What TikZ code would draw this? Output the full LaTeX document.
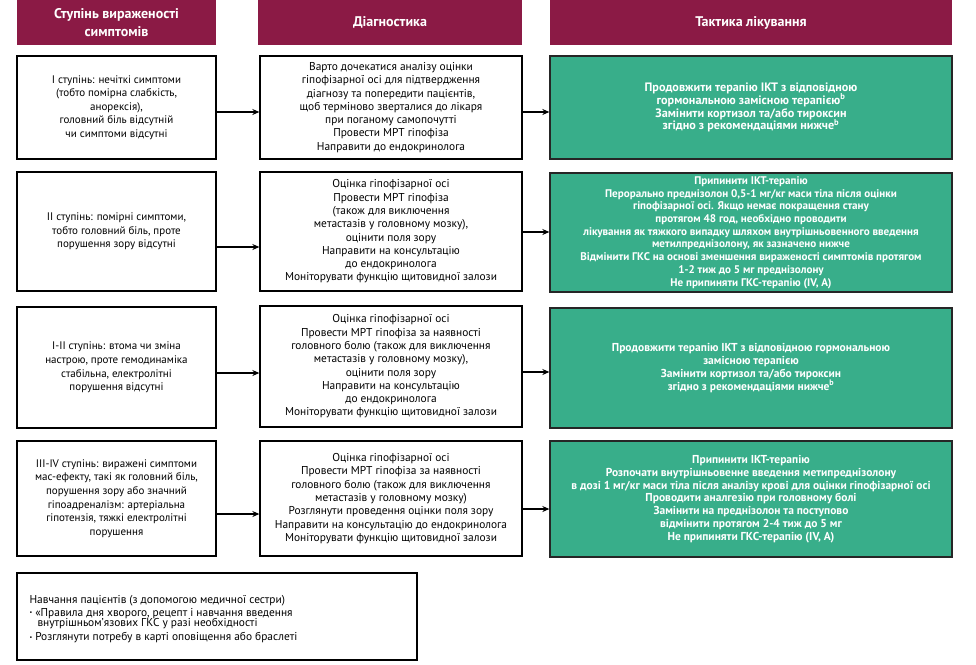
\documentclass[tikz,border=0pt]{standalone}
\usepackage{fontspec}
\setmainfont{PT Sans}
\usetikzlibrary{arrows.meta}
\definecolor{hdr}{RGB}{139,26,69}
\definecolor{grn}{RGB}{56,174,138}
\begin{document}
\begin{tikzpicture}[x=1pt,y=-1pt,
  hdrbox/.style={fill=hdr, text=white, font=\fontsize{14}{17.5}\selectfont\bfseries, align=center, inner sep=0pt},
  wbox/.style={draw=black, line width=1.3pt, fill=white, align=center, font=\fontsize{11.4}{13.3}\selectfont, inner sep=0pt},
  sbox/.style={wbox, font=\fontsize{11}{13.6}\selectfont},
  gbox/.style={draw=black!85, line width=1.3pt, fill=grn, text=white, align=center, font=\fontsize{11.5}{12.8}\selectfont\bfseries, inner sep=0pt},
  notebox/.style={draw=black, line width=1.3pt, fill=white, inner sep=0pt},
  notetext/.style={align=left, font=\fontsize{11.4}{11.5}\selectfont, inner sep=0pt, anchor=west},
  arr/.style={-{Stealth[length=7pt,width=6pt]}, line width=1.3pt}]
\useasboundingbox (0,0) rectangle (976,664);
\fill[white] (0,0) rectangle (976,664);

% headers
\node[hdrbox, minimum width=199pt, minimum height=45pt] (h1) at (116.5,22.5) {Ступінь вираженості\\симптомів};
\node[hdrbox, minimum width=264pt, minimum height=45pt] (h2) at (390,22.5) {Діагностика};
\node[hdrbox, minimum width=402pt, minimum height=45pt] (h3) at (751,22.5) {Тактика лікування};

% row 1
\node[sbox, minimum width=199pt, minimum height=103pt] (r1a) at (116.5,107.5)
  {І ступінь: нечіткі симптоми\\(тобто помірна слабкість,\\анорексія),\\головний біль відсутній\\чи симптоми відсутні};
\node[wbox, minimum width=262pt, minimum height=103pt] (r1b) at (391,107.5)
  {Варто дочекатися аналізу оцінки\\гіпофізарної осі для підтвердження\\діагнозу та попередити пацієнтів,\\щоб терміново зверталися до лікаря\\при поганому самопочутті\\Провести МРТ гіпофіза\\Направити до ендокринолога};
\node[gbox, minimum width=402pt, minimum height=103pt, font=\fontsize{12.2}{12.8}\selectfont\bfseries] (r1c) at (751,107.5)
  {Продовжити терапію ІКТ з відповідною\\гормональною замісною терапією\textsuperscript{b}\\Замінити кортизол та/або тироксин\\згідно з рекомендаціями нижче\textsuperscript{b}};

% row 2
\node[sbox, minimum width=199pt, minimum height=119pt] (r2a) at (116.5,231.5)
  {ІІ ступінь: помірні симптоми,\\тобто головний біль, проте\\порушення зору відсутні};
\node[wbox, minimum width=262pt, minimum height=119pt] (r2b) at (391,231.5)
  {Оцінка гіпофізарної осі\\Провести МРТ гіпофіза\\(також для виключення\\метастазів у головному мозку),\\оцінити поля зору\\Направити на консультацію\\до ендокринолога\\Моніторувати функцію щитовидної залози};
\node[gbox, minimum width=402pt, minimum height=119pt, font=\fontsize{11.1}{12.7}\selectfont\bfseries] (r2c) at (751,232.5)
  {Припинити ІКТ-терапію\\Перорально преднізолон 0,5-1 мг/кг маси тіла після оцінки\\гіпофізарної осі. Якщо немає покращення стану\\протягом 48 год, необхідно проводити\\лікування як тяжкого випадку шляхом внутрішньовенного введення\\метилпреднізолону, як зазначено нижче\\Відмінити ГКС на основі зменшення вираженості симптомів протягом\\1-2 тиж до 5 мг преднізолону\\Не припиняти ГКС-терапію (IV, A)};

% row 3
\node[sbox, minimum width=199pt, minimum height=121pt] (r3a) at (116.5,367.5)
  {І-ІІ ступінь: втома чи зміна\\настрою, проте гемодинаміка\\стабільна, електролітні\\порушення відсутні};
\node[wbox, minimum width=262pt, minimum height=121pt] (r3b) at (391,366.5)
  {Оцінка гіпофізарної осі\\Провести МРТ гіпофіза за наявності\\головного болю (також для виключення\\метастазів у головному мозку),\\оцінити поля зору\\Направити на консультацію\\до ендокринолога\\Моніторувати функцію щитовидної залози};
\node[gbox, minimum width=402pt, minimum height=120pt] (r3c) at (751,368)
  {Продовжити терапію ІКТ з відповідною гормональною\\замісною терапією\\Замінити кортизол та/або тироксин\\згідно з рекомендаціями нижче\textsuperscript{b}};

% row 4
\node[sbox, minimum width=199pt, minimum height=115pt] (r4a) at (116.5,498.5)
  {ІІІ-ІV ступінь: виражені симптоми\\мас-ефекту, такі як головний біль,\\порушення зору або значний\\гіпоадреналізм: артеріальна\\гіпотензія, тяжкі електролітні\\порушення};
\node[wbox, minimum width=262pt, minimum height=115pt] (r4b) at (391,498.5)
  {Оцінка гіпофізарної осі\\Провести МРТ гіпофіза за наявності\\головного болю (також для виключення\\метастазів у головному мозку)\\Розглянути проведення оцінки поля зору\\Направити на консультацію до ендокринолога\\Моніторувати функцію щитовидної залози};
\node[gbox, minimum width=402pt, minimum height=116pt] (r4c) at (751,499)
  {Припинити ІКТ-терапію\\Розпочати внутрішньовенне введення метипреднізолону\\в дозі 1 мг/кг маси тіла після аналізу крові для оцінки гіпофізарної осі\\Проводити аналгезію при головному болі\\Замінити на преднізолон та поступово\\відмінити протягом 2-4 тиж до 5 мг\\Не припиняти ГКС-терапію (IV, A)};

% arrows
\draw[arr] (r1a.east |- 0,112) -- (r1b.west |- 0,112);
\draw[arr] (r1b.east |- 0,112) -- (r1c.west |- 0,112);
\draw[arr] (r2a.east |- 0,247) -- (r2b.west |- 0,247);
\draw[arr] (r2b.east |- 0,232) -- (r2c.west |- 0,232);
\draw[arr] (r3a.east |- 0,373) -- (r3b.west |- 0,373);
\draw[arr] (r3b.east |- 0,372) -- (r3c.west |- 0,372);
\draw[arr] (r4a.east |- 0,514) -- (r4b.west |- 0,514);
\draw[arr] (r4b.east |- 0,509) -- (r4c.west |- 0,509);

% patient education box
\node[notebox, minimum width=400pt, minimum height=87pt] (edu) at (217,616.5) {};
\node[notetext] (edutext) at ([xshift=13pt,yshift=-3pt]edu.west)
  {Навчання пацієнтів (з допомогою медичної сестри)\\[1pt]
   {\fontsize{6}{6}\selectfont\raisebox{1.5pt}{•}}\hspace{3pt}«Правила дня хворого, рецепт і навчання введення\\[-1.5pt]
   \hspace{8pt}внутрішньомʼязових ГКС у разі необхідності\\[3pt]
   {\fontsize{6}{6}\selectfont\raisebox{1.5pt}{•}}\hspace{3pt}Розглянути потребу в карті оповіщення або браслеті};
\end{tikzpicture}
\end{document}
